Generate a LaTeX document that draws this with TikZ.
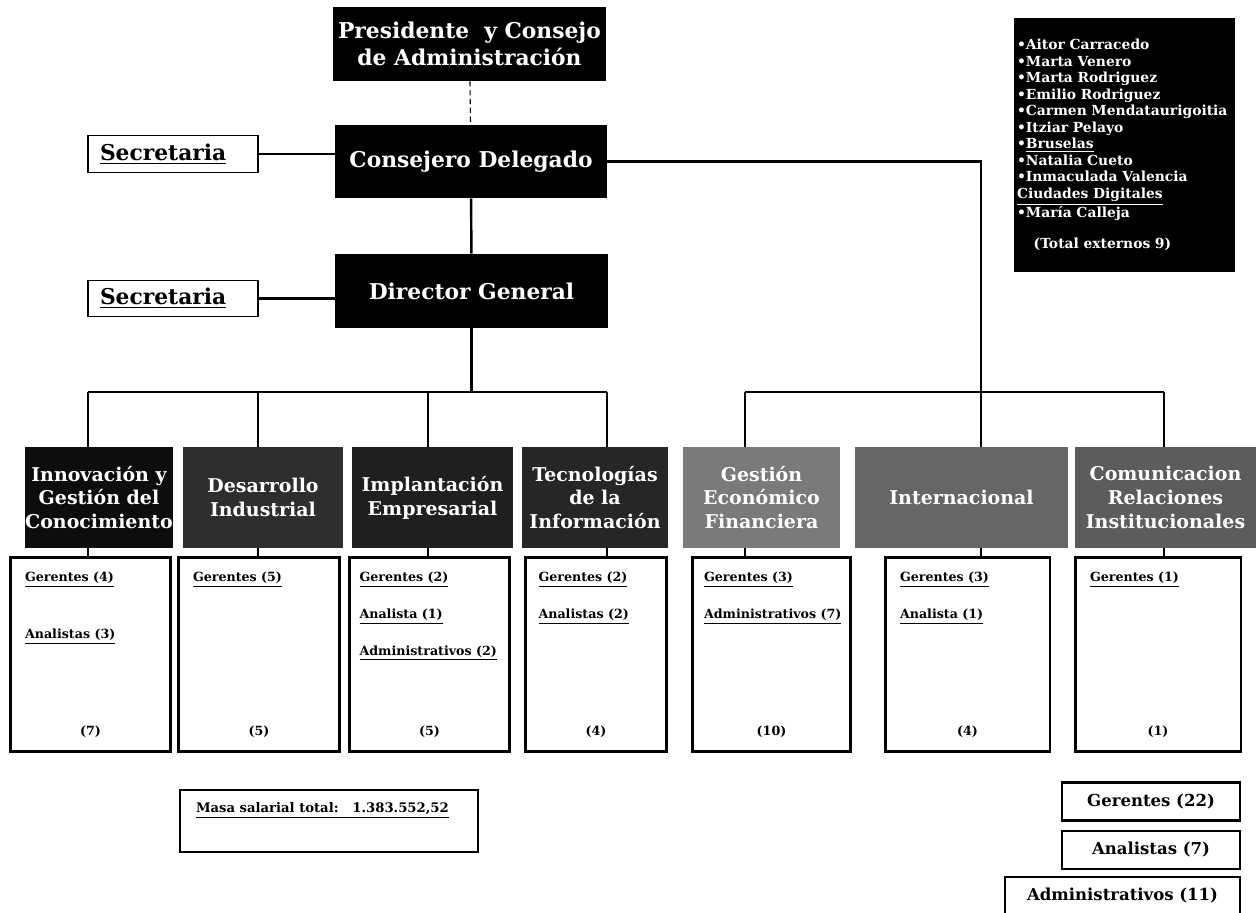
\documentclass[tikz,border=0pt]{standalone}
\usepackage{fontspec}
\setmainfont{DejaVu Serif}
\newcommand\staff[3]{\parbox[c][3.3cm][t]{#1}{\raggedright#2\par\vfill\centering#3\par}}
\begin{document}
\begin{tikzpicture}[x=0.02cm,y=-0.02cm,
  every node/.style={inner sep=0pt},
  dark/.style={fill=#1,text=white,align=center,font=\bfseries\fontsize{12.4}{15}\selectfont},
  dark/.default=black,
  dept/.style={dark=#1,minimum height=2.02cm,font=\bfseries\fontsize{10.8}{13.6}\selectfont},
  secbox/.style={draw,line width=0.8pt,minimum width=3.4cm,minimum height=0.73cm,text width=2.92cm,align=left,font=\bfseries\fontsize{12.4}{15}\selectfont},
  unit/.style={draw,line width=1.7pt,minimum height=3.9cm,font=\bfseries\fontsize{7.2}{8.4}\selectfont},
  total/.style={draw,line width=1.4pt,minimum height=0.76cm,font=\bfseries\fontsize{9.4}{11}\selectfont},
  link/.style={line width=1.4pt}]
\useasboundingbox (0,0) rectangle (1258,913);

% direccion
\node[dark,minimum width=5.46cm,minimum height=1.48cm] (pres) at (469.5,44) {Presidente\ \ y Consejo\\de Administración};
\node[dark,minimum width=5.44cm,minimum height=1.46cm] (cons) at (471,161.5) {Consejero Delegado};
\node[dark,minimum width=5.46cm,minimum height=1.48cm] (dir) at (471.5,291) {Director General};
\node[secbox] (sec1) at (173,154) {\underline{Secretaria}};
\node[secbox] (sec2) at (173,298.5) {\underline{Secretaria}};

% externos
\node[dark,minimum width=4.42cm,minimum height=5.08cm,text width=4.3cm,align=left,
      font=\bfseries\fontsize{7.9}{9.4}\selectfont] (ext) at (1124.5,145)
  {\textbullet Aitor Carracedo\\ \textbullet Marta Venero\\ \textbullet Marta Rodriguez\\
   \textbullet Emilio Rodriguez\\ \textbullet Carmen Mendataurigoitia\\ \textbullet Itziar Pelayo\\
   \textbullet\underline{Bruselas}\\ \textbullet Natalia Cueto\\ \textbullet Inmaculada Valencia\\
   \underline{Ciudades Digitales}\\ \textbullet María Calleja\\[8pt]
   \hspace*{1.2em}(Total externos 9)};

% departamentos
\node[dept=black!95,minimum width=2.96cm] (innov) at (99,497.5) {Innovación y\\Gestión del\\Conocimiento};
\node[dept=black!82,minimum width=3.2cm] (desar) at (263,497.5) {Desarrollo\\Industrial};
\node[dept=black!88,minimum width=3.22cm] (impl) at (432.5,497.5) {Implantación\\Empresarial};
\node[dept=black!85,minimum width=2.92cm] (tecno) at (595,497.5) {Tecnologías\\de la\\Información};
\node[dept=black!52,minimum width=3.14cm] (gest) at (761.5,497.5) {Gestión\\Económico\\Financiera};
\node[dept=black!60,minimum width=4.26cm] (inter) at (961.5,497.5) {Internacional};
\node[dept=black!64,minimum width=3.62cm] (comun) at (1165.5,497.5) {Comunicacion\\Relaciones\\Institucionales};

% plantilla
\node[unit,minimum width=3.22cm] (b1) at (90.5,654.5)
  {\staff{2.62cm}{\underline{Gerentes (4)}\\[0.8cm]\underline{Analistas (3)}}{(7)}};
\node[unit,minimum width=3.24cm] (b2) at (259,654.5)
  {\staff{2.64cm}{\underline{Gerentes (5)}}{(5)}};
\node[unit,minimum width=3.22cm] (b3) at (429.5,654.5)
  {\staff{2.8cm}{\underline{Gerentes (2)}\\[0.4cm]\underline{Analista (1)}\\[0.4cm]\underline{Administrativos (2)}}{(5)}};
\node[unit,minimum width=2.84cm] (b4) at (596,654.5)
  {\staff{2.3cm}{\underline{Gerentes (2)}\\[0.4cm]\underline{Analistas (2)}}{(4)}};
\node[unit,minimum width=3.18cm] (b5) at (771.5,654.5)
  {\staff{2.7cm}{\underline{Gerentes (3)}\\[0.4cm]\underline{Administrativos (7)}}{(10)}};
\node[unit,minimum width=3.3cm] (b6) at (967.5,654.5)
  {\staff{2.7cm}{\underline{Gerentes (3)}\\[0.4cm]\underline{Analista (1)}}{(4)}};
\node[unit,minimum width=3.32cm] (b7) at (1158,654.5)
  {\staff{2.72cm}{\underline{Gerentes (1)}}{(1)}};

% totales
\node[draw,line width=1.4pt,minimum width=5.96cm,minimum height=1.24cm,
      font=\bfseries\fontsize{7.5}{9}\selectfont] (masa) at (329,821)
  {\parbox[c][0.74cm][t]{5.32cm}{\underline{Masa salarial total:\ \ \ 1.383.552,52}}};
\node[total,minimum width=3.56cm] (tger) at (1151,801.5) {Gerentes (22)};
\node[total,minimum width=3.56cm] (tana) at (1151,850) {Analistas (7)};
\node[total,minimum width=4.7cm] (tadm) at (1122.5,896) {Administrativos (11)};

% lineas
\coordinate (c1) at (88,392);
\coordinate (c2) at (258,392);
\coordinate (c3) at (428,392);
\coordinate (c4) at (607,392);
\coordinate (c5) at (745,392);
\coordinate (c6) at (981,392);
\coordinate (c7) at (1164,392);
\draw[densely dashed,line width=0.6pt] (pres) -- (cons);
\draw[link] (cons) -- (dir);
\draw[link] (sec1) -- (sec1 -| cons.west);
\draw[link] (sec2) -- (sec2 -| dir.west);
\draw[link] (dir) -- (dir |- c1);
\draw[link] (c1) -- (c4);
\draw[link] (cons) -| (c6);
\draw[link] (c5) -- (c7);
\foreach \c/\h/\b in {c1/innov/b1,c2/desar/b2,c3/impl/b3,c4/tecno/b4,c5/gest/b5,c6/inter/b6,c7/comun/b7}
{
  \draw[link] (\c) -- (\c |- \h.north);
  \draw[link] (\c |- \h.south) -- (\c |- \b.north);
}
\end{tikzpicture}
\end{document}
